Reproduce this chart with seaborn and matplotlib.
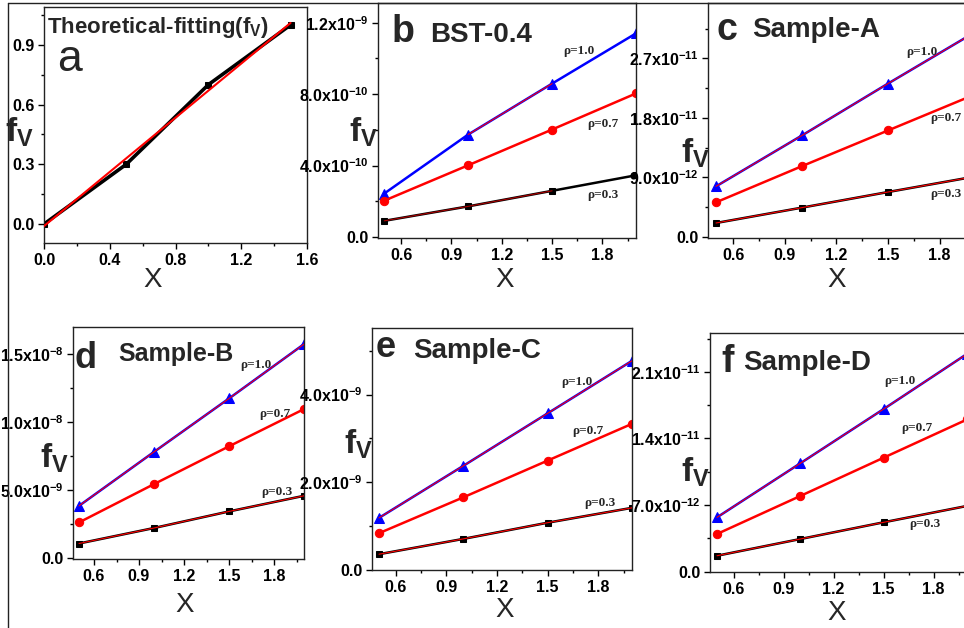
import matplotlib
matplotlib.use('Agg')
import matplotlib.pyplot as plt
import seaborn as sns
import pandas as pd
from matplotlib.ticker import FixedLocator
from matplotlib.lines import Line2D
from matplotlib import font_manager

W, H = 964, 628
sns.set_theme(style='ticks')
plt.rcParams['font.family'] = ['Liberation Sans', 'DejaVu Sans']
plt.rcParams['mathtext.fontset'] = 'custom'
plt.rcParams['mathtext.rm'] = 'Liberation Sans'
plt.rcParams['mathtext.bf'] = 'Liberation Sans:bold'
plt.rcParams['mathtext.it'] = 'Liberation Sans:italic'
plt.rcParams['mathtext.default'] = 'bf'

names = {f.name for f in font_manager.fontManager.ttflist}
NARROW = 'Liberation Sans Narrow' if 'Liberation Sans Narrow' in names else None

# ---------------- data ----------------
# panel a
a_x = [0.0, 0.5, 1.0, 1.5]
a_fv = [0.0, 0.3, 0.7, 1.0]
a_fit_x = [0.0, 1.5]
a_fit_y = [-0.01, 1.01]

x_vals = [0.5, 1.0, 1.5, 2.0]
rho_labels = ['\u03c1=1.0', '\u03c1=0.7', '\u03c1=0.3']

# panel b (BST-0.4)
b_rho10 = [2.44e-10, 5.74e-10, 8.59e-10, 11.4e-10]
b_rho07 = [2.04e-10, 4.02e-10, 6.02e-10, 8.04e-10]
b_rho03 = [0.91e-10, 1.72e-10, 2.59e-10, 3.46e-10]
# panel c (Sample-A)
c_rho10 = [7.64e-12, 15.35e-12, 23.2e-12, 30.9e-12]
c_rho07 = [5.22e-12, 10.7e-12, 16.1e-12, 21.5e-12]
c_rho03 = [2.09e-12, 4.42e-12, 6.78e-12, 9.1e-12]
# panel d (Sample-B)
d_rho10 = [3.84e-9, 7.81e-9, 11.74e-9, 15.74e-9]
d_rho07 = [2.62e-9, 5.44e-9, 8.22e-9, 10.96e-9]
d_rho03 = [1.07e-9, 2.21e-9, 3.43e-9, 4.58e-9]
# panel e (Sample-C)
e_rho10 = [1.18e-9, 2.37e-9, 3.57e-9, 4.77e-9]
e_rho07 = [0.83e-9, 1.65e-9, 2.49e-9, 3.33e-9]
e_rho03 = [0.35e-9, 0.70e-9, 1.07e-9, 1.41e-9]
# panel f (Sample-D)
f_rho10 = [5.7e-12, 11.39e-12, 17.1e-12, 22.9e-12]
f_rho07 = [3.95e-12, 7.95e-12, 11.98e-12, 16.0e-12]
f_rho03 = [1.66e-12, 3.42e-12, 5.18e-12, 6.9e-12]

b_yticks = [0, 4e-10, 8e-10, 1.2e-9]
b_ylabels = ['0.0', '4.0x10$^{-10}$', '8.0x10$^{-10}$', '1.2x10$^{-9}$']
c_yticks = [0, 9e-12, 1.8e-11, 2.7e-11]
c_ylabels = ['0.0', '9.0x10$^{-12}$', '1.8x10$^{-11}$', '2.7x10$^{-11}$']
d_yticks = [0, 5e-9, 1e-8, 1.5e-8]
d_ylabels = ['0.0', '5.0x10$^{-9}$', '1.0x10$^{-8}$', '1.5x10$^{-8}$']
e_yticks = [0, 2e-9, 4e-9]
e_ylabels = ['0.0', '2.0x10$^{-9}$', '4.0x10$^{-9}$']
f_yticks = [0, 7e-12, 1.4e-11, 2.1e-11]
f_ylabels = ['0.0', '7.0x10$^{-12}$', '1.4x10$^{-11}$', '2.1x10$^{-11}$']
x_ticks = [0.6, 0.9, 1.2, 1.5, 1.8]
x_ticklabels = ['0.6', '0.9', '1.2', '1.5', '1.8']

if NARROW:
    plt.rcParams['mathtext.bf'] = NARROW + ':bold'
    TICKFAM = [NARROW, 'Liberation Sans', 'DejaVu Sans']
    TICKSIZE = 13.5
else:
    TICKFAM = ['Liberation Sans', 'DejaVu Sans']
    TICKSIZE = 11.5

# ---------------- figure ----------------
fig = plt.figure(figsize=(W / 100, H / 100), dpi=100)


def axbox(l, t, r, b):
    return fig.add_axes([l / W, 1 - b / H, (r - l) / W, (b - t) / H])


def ftext(x, y, s, **kw):
    return fig.text(x / W, 1 - y / H, s, **kw)


def style(ax, xlim, ylim, xticks, xlabels, xminor, yticks, ylabels, yminor):
    ax.set_xlim(*xlim)
    ax.set_ylim(*ylim)
    ax.xaxis.set_major_locator(FixedLocator(xticks))
    ax.set_xticklabels(xlabels)
    ax.xaxis.set_minor_locator(FixedLocator(xminor))
    ax.yaxis.set_major_locator(FixedLocator(yticks))
    ax.set_yticklabels(ylabels)
    ax.yaxis.set_minor_locator(FixedLocator(yminor))
    ax.tick_params(which='both', direction='out', top=False, right=False,
                   colors='black', width=1)
    ax.tick_params(which='major', length=4, pad=3, labelsize=TICKSIZE)
    ax.tick_params(which='minor', length=2.5)
    for lab in ax.get_xticklabels() + ax.get_yticklabels():
        lab.set_fontweight('bold')
        lab.set_family(TICKFAM)
    for sp in ax.spines.values():
        sp.set_visible(True)
        sp.set_color('#222222')
        sp.set_linewidth(1.0)
    ax.set_xlabel('')
    ax.set_ylabel('')


def line(ax, x, y, color, marker=None, ms=5, lw=2.0, z=2):
    df = pd.DataFrame({'x': x, 'y': y})
    sns.lineplot(data=df, x='x', y='y', ax=ax, color=color, marker=marker,
                 markersize=ms, markeredgecolor=color, linewidth=lw,
                 legend=False, zorder=z, estimator=None, sort=False)


# panel a
ax = axbox(44, 7, 307, 243)
line(ax, a_x, a_fv, 'black', marker='s', ms=5, lw=2.6)
line(ax, a_fit_x, a_fit_y, 'red', lw=1.5, z=3)
style(ax, (0, 1.6), (-0.095, 1.09), [0, 0.4, 0.8, 1.2, 1.6],
      ['0.0', '0.4', '0.8', '1.2', '1.6'], [0.2, 0.6, 1.0, 1.4],
      [0, 0.3, 0.6, 0.9], ['0.0', '0.3', '0.6', '0.9'], [-0.15 + 0.3 * i for i in range(1, 5)])
ftext(47, 33, 'Theoretical-fitting(f$_V$)', fontsize=16, fontweight='bold', va='baseline')
ftext(57, 71, 'a', fontsize=32, va='baseline')


def sample_panel(box, xlim, ylim, r10, r07, r03, yticks, ylabels, rho_pos, fit_full=True):
    ax = axbox(*box)
    line(ax, x_vals, r10, 'blue', marker='^', ms=6.5, lw=1.8)
    line(ax, x_vals, r07, 'red', marker='o', ms=6, lw=1.8)
    line(ax, x_vals, r03, 'black', marker='s', ms=5, lw=1.8)
    if fit_full:
        line(ax, x_vals, r10, 'red', lw=0.8, z=3)
        line(ax, x_vals, r03, 'red', lw=0.8, z=3)
    else:
        line(ax, x_vals[1:3], r10[1:3], 'red', lw=0.8, z=3)
        line(ax, x_vals[0:3], r03[0:3], '#aa0000', lw=0.8, z=3)
    step = yticks[1] - yticks[0]
    yminor = [step / 2 + step * i for i in range(0, 8)]
    style(ax, xlim, ylim, x_ticks, x_ticklabels,
          [0.75, 1.05, 1.35, 1.65, 1.95], yticks, ylabels, yminor)
    for (px, py), s in zip(rho_pos, rho_labels):
        ftext(px, py, s, fontsize=9.5, fontweight='bold', ha='center', va='center',
              family=['Liberation Serif', 'DejaVu Serif'])
    return ax


sample_panel((378, 3, 636, 238), (0.4625, 2.0), (-0.05e-10, 13.1e-10),
             b_rho10, b_rho07, b_rho03, b_yticks, b_ylabels,
             [(579, 51), (603, 124), (603, 195)], fit_full=False)
sample_panel((708, 3, 974, 238), (0.4535, 2.0), (-0.18e-12, 35.4e-12),
             c_rho10, c_rho07, c_rho03, c_yticks, c_ylabels,
             [(922, 52), (946, 118), (946, 194)])
sample_panel((73, 327, 304, 559), (0.46, 2.0), (-0.07e-9, 17.0e-9),
             d_rho10, d_rho07, d_rho03, d_yticks, d_ylabels,
             [(256, 365), (275, 414), (277, 492)])
sample_panel((372, 328, 632, 570), (0.4585, 2.0), (-0.011e-9, 5.52e-9),
             e_rho10, e_rho07, e_rho03, e_yticks, e_ylabels,
             [(577, 382), (588, 431), (600, 503)])
sample_panel((710, 333, 967, 572), (0.458, 2.0), (-0.05e-12, 25.1e-12),
             f_rho10, f_rho07, f_rho03, f_yticks, f_ylabels,
             [(900, 381), (917, 428), (925, 524)])

# panel letters and titles
ftext(392, 42, 'b', fontsize=27, fontweight='bold', va='baseline')
ftext(430, 42, 'BST-0.4', fontsize=20, fontweight='bold', va='baseline')
ftext(716, 40, 'c', fontsize=27, fontweight='bold', va='baseline')
ftext(752, 37, 'Sample-A', fontsize=20, fontweight='bold', va='baseline')
ftext(74, 368, 'd', fontsize=26, fontweight='bold', va='baseline')
ftext(118, 361, 'Sample-B', fontsize=18, fontweight='bold', va='baseline')
ftext(376, 357, 'e', fontsize=26, fontweight='bold', va='baseline')
ftext(413, 358, 'Sample-C', fontsize=20, fontweight='bold', va='baseline')
ftext(721, 372, 'f', fontsize=27, fontweight='bold', va='baseline')
ftext(743, 370, 'Sample-D', fontsize=20, fontweight='bold', va='baseline')

# axis labels
for (px, py) in [(19, 132), (363, 132), (695, 153), (54, 458), (358, 444), (695, 472)]:
    ftext(px, py, '$f_V$', fontsize=24, ha='center', va='center')
for (px, py) in [(153, 287), (505, 287), (837, 287), (185, 612), (505, 617), (837, 620)]:
    ftext(px, py, 'X', fontsize=20, ha='center', va='baseline')

# figure border
fig.add_artist(Line2D([8 / W, 1], [1 - 3 / H, 1 - 3 / H], color='#222222', lw=1,
                      transform=fig.transFigure))
fig.add_artist(Line2D([8 / W, 8 / W], [1 - 3 / H, 0], color='#222222', lw=1,
                      transform=fig.transFigure))

fig.savefig('out.png', dpi=100)
